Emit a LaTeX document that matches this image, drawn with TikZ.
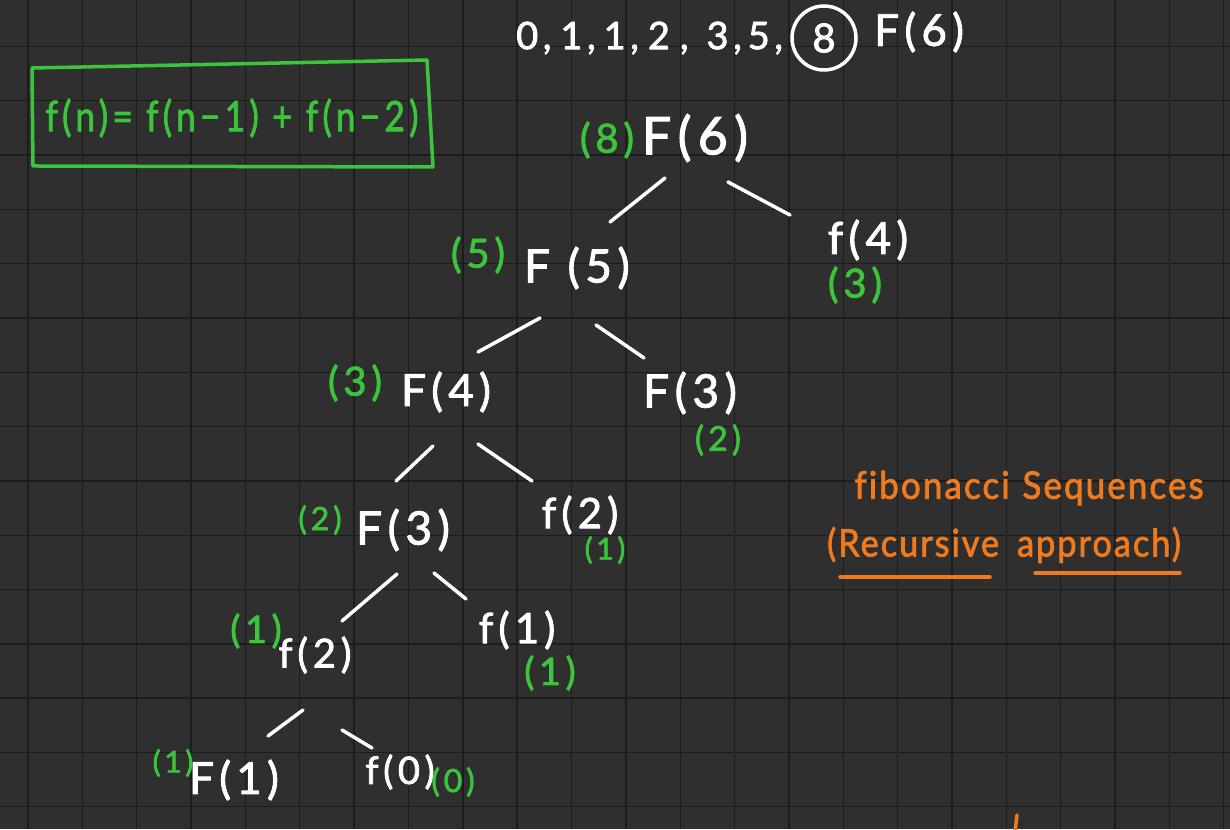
\documentclass[tikz,border=0pt]{standalone}
\usepackage{fontspec}
\newfontfamily\hand{Lato}[LetterSpace=12, FakeBold=2, Ligatures=NoCommon]
\newfontfamily\handt{Lato}[LetterSpace=6, FakeBold=2, Ligatures=NoCommon]
\definecolor{bg}{HTML}{2F2F2F}
\definecolor{gridc}{HTML}{1C1C1C}
\definecolor{hgreen}{HTML}{3CC43C}
\definecolor{horange}{HTML}{F07A1E}
\tikzset{
  wt/.style={text=white, font=\hand\fontsize{#1}{#1}\selectfont, inner sep=0pt},
  gt/.style={text=hgreen, font=\hand\fontsize{#1}{#1}\selectfont, inner sep=0pt},
  ot/.style={text=horange, font=\handt\fontsize{#1}{#1}\selectfont, inner sep=0pt},
  edge/.style={draw=white, line width=3.5pt, line cap=round},
  gridline/.style={draw=gridc, line width=1.4pt},
}
\begin{document}
\begin{tikzpicture}[x=1pt,y=-1pt]
\fill[bg] (0,0) rectangle (1230,829);
\useasboundingbox (0,0) rectangle (1230,829);
% grid
\foreach \k in {0,...,22} {\draw[gridline] ({28+54.35*\k},0) -- ({28+54.35*\k},829);}
\foreach \k in {0,...,14} {\draw[gridline] (0,{46.5+54.3*\k}) -- (1230,{46.5+54.3*\k});}

% top sequence
\node[wt=38, anchor=west] (seq) at (516,38) {0,\hspace{9pt}1,\hspace{8pt}1,\hspace{9pt}2\hspace{10pt},\hspace{18pt}3,\hspace{6pt}5,};
\node[wt=40, draw=white, line width=3.5pt, circle, minimum size=64pt] (eight) at (824,38) {8};
\node[wt=44, anchor=west] (topF) at (874,32) {F(6)};

% formula box
\draw[hgreen, line width=3.5pt, line join=round, line cap=round]
  (32,68) -- (427,60) -- (433,167) -- (38,166) -- (33,166) -- cycle;
\node[gt=42] (formula) at (232,118) {\scalebox{0.84}[1]{f(n)= f(n−1) + f(n−2)}};

% tree nodes
\node[wt=52] (F6) at (695,138) {F(6)};
\node[gt=40] (g6) at (607,140) {(8)};
\node[wt=46] (F5) at (577,268) {F (5)};
\node[gt=40] (g5) at (478,255) {(5)};
\node[wt=44] (F4r) at (868,240) {f(4)};
\node[gt=40] (g4r) at (855,285) {(3)};
\node[wt=44] (F4) at (446,392) {F(4)};
\node[gt=40] (g4) at (355,383) {(3)};
\node[wt=46] (F3r) at (690,393) {F(3)};
\node[gt=34] (g3r) at (718,440) {(2)};
\node[wt=46] (F3) at (403,530) {F(3)};
\node[gt=32] (g3) at (320,520) {(2)};
\node[wt=42] (F2r) at (580,515) {f(2)};
\node[gt=30] (g2r) at (605,550) {(1)};
\node[wt=40] (f2) at (315,655) {f(2)};
\node[gt=38] (gf2) at (256,631) {(1)};
\node[wt=42] (f1r) at (517,630) {f(1)};
\node[gt=38] (gf1r) at (550,673) {(1)};
\node[wt=44] (F1) at (234,780) {F(1)};
\node[gt=30] (gF1) at (173,763) {(1)};
\node[wt=38] (f0) at (400,772) {f(0)};
\node[gt=32] (gf0) at (453,782) {(0)};

% edges
\draw[edge] ([shift={(-30,40)}]F6.center) -- ([shift={(33,-46)}]F5.center);
\draw[edge] ([shift={(33,44)}]F6.center) -- ([shift={(-78,-25)}]F4r.center);
\draw[edge] ([shift={(-37,50)}]F5.center) -- ([shift={(32,-40)}]F4.center);
\draw[edge] ([shift={(19,57)}]F5.center) -- ([shift={(-46,-35)}]F3r.center);
\draw[edge] ([shift={(-13,54)}]F4.center) -- ([shift={(-7,-49)}]F3.center);
\draw[edge] ([shift={(32,52)}]F4.center) -- ([shift={(-48,-34)}]F2r.center);
\draw[edge] ([shift={(-6,44)}]F3.center) -- ([shift={(27,-34)}]f2.center);
\draw[edge] ([shift={(31,43)}]F3.center) -- ([shift={(-51,-31)}]f1r.center);
\draw[edge] ([shift={(-12,55)}]f2.center) -- ([shift={(34,-44)}]F1.center);
\draw[edge] ([shift={(27,75)}]f2.center) -- ([shift={(-28,-24)}]f0.center);

% orange title
\node[ot=38] (title1) at (1029,488) {\scalebox{0.92}[1]{fibonacci\hspace{14pt}Sequences}};
\node[ot=38] (title2) at (1004,545) {\scalebox{0.9}[1]{(Recursive\ \hspace{8pt}approach)}};
\draw[horange, line width=3.5pt, line cap=round] (840,577) -- (990,577);
\draw[horange, line width=3.5pt, line cap=round] (1035,573) -- (1180,573);
\draw[horange, line width=3.5pt, line cap=round] (1017,815) -- (1015,832);
\end{tikzpicture}
\end{document}
